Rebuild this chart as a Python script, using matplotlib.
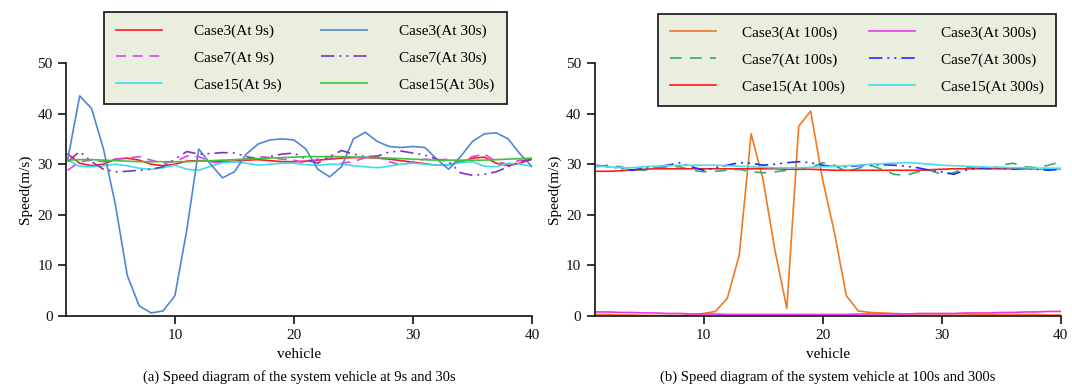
import matplotlib
matplotlib.use("Agg")
import matplotlib.pyplot as plt
import numpy as np

plt.rcParams['font.family'] = ['Liberation Serif', 'DejaVu Serif']

vehicles = list(range(1, 41))

# ---- panel (a): 9s and 30s ----
case3_9s = [32, 30.2, 29.7, 30, 31, 31.2, 30.8, 30, 29.7, 30, 30.6, 30.7, 30.6, 30.5, 30.6, 30.8,
            30.9, 30.7, 30.5, 30.5, 30.6, 30.8, 31, 31.2, 31.3, 31.3, 31.2, 31, 30.7, 30.4, 30.1,
            29.8, 29.9, 30.4, 31.2, 31.4, 30.2, 29.7, 30.2, 31]
case7_9s = [28.8, 30.5, 30.8, 30.5, 31, 31.2, 31.5, 30.8, 30.2, 30.5, 31.6, 31.5, 30.5, 30.2, 30.5,
            31, 31.5, 31.3, 31, 30.8, 30.2, 31, 31.5, 30.2, 30.5, 31.3, 31.5, 30.5, 29.8, 30.5, 31,
            30.8, 31, 30.5, 31.5, 32, 30.5, 30, 30.8, 30.5]
case15_9s = [30.8, 29.6, 29.5, 29.7, 30, 29.7, 29.2, 29, 29.3, 29.8, 29, 28.8, 29.6, 30.3, 30.5, 30.2,
             29.8, 30, 30.2, 30.2, 29.9, 29.8, 30, 30, 29.7, 29.5, 29.3, 29.6, 30, 30.2, 30, 29.8,
             29.9, 30.3, 30.5, 29.6, 29.5, 30.2, 30, 29.6]
case3_30s = [31, 43.5, 41, 33, 22, 8, 2, 0.6, 1, 4, 17, 33, 30, 27.3, 28.5, 32, 34, 34.8, 35, 34.8,
             33, 29, 27.5, 29.5, 35, 36.3, 34.5, 33.5, 33.3, 33.5, 33.3, 31, 29, 31.5, 34.5, 36,
             36.2, 35, 32, 29.5]
case7_30s = [30.5, 32.5, 30.5, 29, 28.5, 28.6, 28.8, 29, 29.5, 31, 32.5, 32, 32.1, 32.3, 32.2, 31.5,
             31, 31.5, 32, 32.2, 31, 30.2, 31.5, 32.7, 32, 31.5, 31.6, 32.4, 32.6, 32.2, 31.8, 31,
             30.5, 28.3, 27.8, 28, 28.5, 29.5, 30.5, 31]
case15_30s = [30.8, 30.9, 30.9, 30.8, 30.7, 30.6, 30.5, 30.5, 30.5, 30.5, 30.5, 30.6, 30.7, 30.8, 30.9,
              31, 31.1, 31.2, 31.3, 31.4, 31.5, 31.5, 31.5, 31.5, 31.4, 31.4, 31.3, 31.2, 31.1, 31,
              30.9, 30.8, 30.8, 30.8, 30.8, 30.8, 30.9, 31, 31.1, 31.2]

# ---- panel (b): 100s and 300s ----
case3_100s = [0.3, 0.3, 0.2, 0.2, 0.1, 0.1, 0.1, 0.1, 0.2, 0.5, 0.9, 3.5, 12, 36, 27, 13, 1.5, 37.5,
              40.5, 27, 16.5, 4, 1, 0.7, 0.6, 0.5, 0.4, 0.4, 0.4, 0.4, 0.4, 0.4, 0.3, 0.3, 0.3, 0.3,
              0.3, 0.3, 0.2, 0.2]
case7_100s = [29.5, 29.8, 29.5, 29, 28.8, 29.3, 29.5, 29.5, 28.8, 28.5, 28.6, 28.8, 29, 28.5, 28.3,
              28.5, 28.8, 29, 29.3, 30.3, 29.8, 28.5, 29.2, 29.8, 29, 28, 27.8, 28.5, 28.8, 28, 28.3,
              29.3, 29.5, 29, 29.8, 30.2, 29.5, 29.3, 29.8, 30.5]
case15_100s = [28.6, 28.6, 28.7, 28.9, 29, 29.1, 29.1, 29.1, 29.1, 29.1, 29.1, 29.1, 29.1, 29.1, 29.1,
               29.1, 29, 29, 29, 28.9, 28.8, 28.8, 28.8, 28.8, 28.8, 28.8, 28.8, 28.8, 28.9, 29, 29.1,
               29.1, 29.1, 29.1, 29.1, 29.1, 29.1, 29.1, 29.1, 29.1]
case3_300s = [0.8, 0.8, 0.7, 0.7, 0.6, 0.6, 0.5, 0.5, 0.4, 0.4, 0.4, 0.3, 0.3, 0.3, 0.3, 0.3, 0.3, 0.3,
              0.3, 0.3, 0.3, 0.3, 0.4, 0.4, 0.4, 0.4, 0.4, 0.5, 0.5, 0.5, 0.5, 0.6, 0.6, 0.6, 0.7, 0.7,
              0.8, 0.8, 0.9, 0.9]
case7_300s = [29.8, 29.5, 29.2, 28.8, 29.2, 29.5, 29.8, 30.3, 29.5, 28.8, 29.3, 29.8, 30.3, 30.2, 29.8,
              30, 30.3, 30.5, 30.3, 29.8, 29.5, 29.5, 29.7, 29.8, 29.9, 29.8, 29.6, 29.3, 28.8, 28.5,
              28, 28.8, 29.2, 29.3, 29.2, 29, 29.2, 29, 28.8, 29]
case15_300s = [29.7, 29.5, 29.3, 29.3, 29.5, 29.6, 29.7, 29.8, 29.8, 29.8, 29.8, 29.7, 29.6, 29.5, 29.4,
               29.3, 29.3, 29.3, 29.4, 29.5, 29.6, 29.7, 29.8, 30, 30.1, 30.2, 30.3, 30.2, 30, 29.8,
               29.7, 29.6, 29.5, 29.4, 29.4, 29.3, 29.3, 29.2, 29.2, 29.2]

x_ticks = [10, 20, 30, 40]
y_ticks = [0, 10, 20, 30, 40, 50]
captions = ["(a) Speed diagram of the system vehicle at 9s and 30s",
            "(b) Speed diagram of the system vehicle at 100s and 300s"]

DASH = (0, (6, 4))
DDOT = (0, (8, 3, 1.2, 3, 1.2, 3))
lw = 1.2

fig = plt.figure(figsize=(10.72, 3.87), dpi=100)
axA = fig.add_axes([66/1072, 1-316/387, 466/1072, 253/387])
axB = fig.add_axes([594.6/1072, 1-316/387, 466/1072, 253/387])

axA.plot(vehicles, case3_9s, color='#ff1a1a', lw=lw, label='Case3(At 9s)')
axA.plot(vehicles, case7_9s, color='#e040ee', lw=lw, ls=DASH, label='Case7(At 9s)')
axA.plot(vehicles, case15_9s, color='#3fdcec', lw=lw, label='Case15(At 9s)')
axA.plot(vehicles, case3_30s, color='#4f86d6', lw=lw, label='Case3(At 30s)')
axA.plot(vehicles, case7_30s, color='#7b35c2', lw=lw, ls=DDOT, label='Case7(At 30s)')
axA.plot(vehicles, case15_30s, color='#3fc23f', lw=lw, label='Case15(At 30s)')

axB.plot(vehicles, case3_100s, color='#f07a22', lw=lw, label='Case3(At 100s)')
axB.plot(vehicles, case7_100s, color='#3aa86a', lw=lw, ls=(0, (7, 5)), label='Case7(At 100s)')
axB.plot(vehicles, case15_100s, color='#ff1a1a', lw=lw, label='Case15(At 100s)')
axB.plot(vehicles, case3_300s, color='#ee33ee', lw=lw, label='Case3(At 300s)')
axB.plot(vehicles, case7_300s, color='#1a2cff', lw=lw, ls=DDOT, label='Case7(At 300s)')
axB.plot(vehicles, case15_300s, color='#45e0e6', lw=lw, label='Case15(At 300s)')

legend_opts = {
    axA: dict(bbox_to_anchor=(0.0815, 1.2016), handletextpad=2.1, columnspacing=2.6),
    axB: dict(bbox_to_anchor=(0.136, 1.194), handletextpad=1.7, columnspacing=1.6),
}
for ax, cap in zip([axA, axB], captions):
    ax.set_xlim(0.85, 40)
    ax.set_ylim(0, 50)
    ax.set_xticks(x_ticks)
    ax.set_yticks(y_ticks)
    for s in ['top', 'right']:
        ax.spines[s].set_visible(False)
    for s in ['left', 'bottom']:
        ax.spines[s].set_linewidth(1.2)
        ax.spines[s].set_color('#111111')
    ax.tick_params(direction='out', length=6, width=1.2, labelsize=11, colors='#111111')
    ax.set_xlabel('vehicle', fontsize=11, labelpad=4)
    ax.set_ylabel('Speed(m/s)', fontsize=11, labelpad=4)
    leg = ax.legend(ncol=2, loc='upper left', borderaxespad=0, fontsize=11,
                    handlelength=3.0, labelspacing=0.85, borderpad=0.8,
                    fancybox=False, framealpha=1, **legend_opts[ax])
    fr = leg.get_frame()
    fr.set_facecolor('#e9eedf')
    fr.set_edgecolor('#222222')
    fr.set_linewidth(1.3)
    pos = ax.get_position()
    fig.text(pos.x0 + pos.width/2, 1-377/387, cap, ha='center', va='center', fontsize=10.5)

fig.savefig('out.png', dpi=100)
